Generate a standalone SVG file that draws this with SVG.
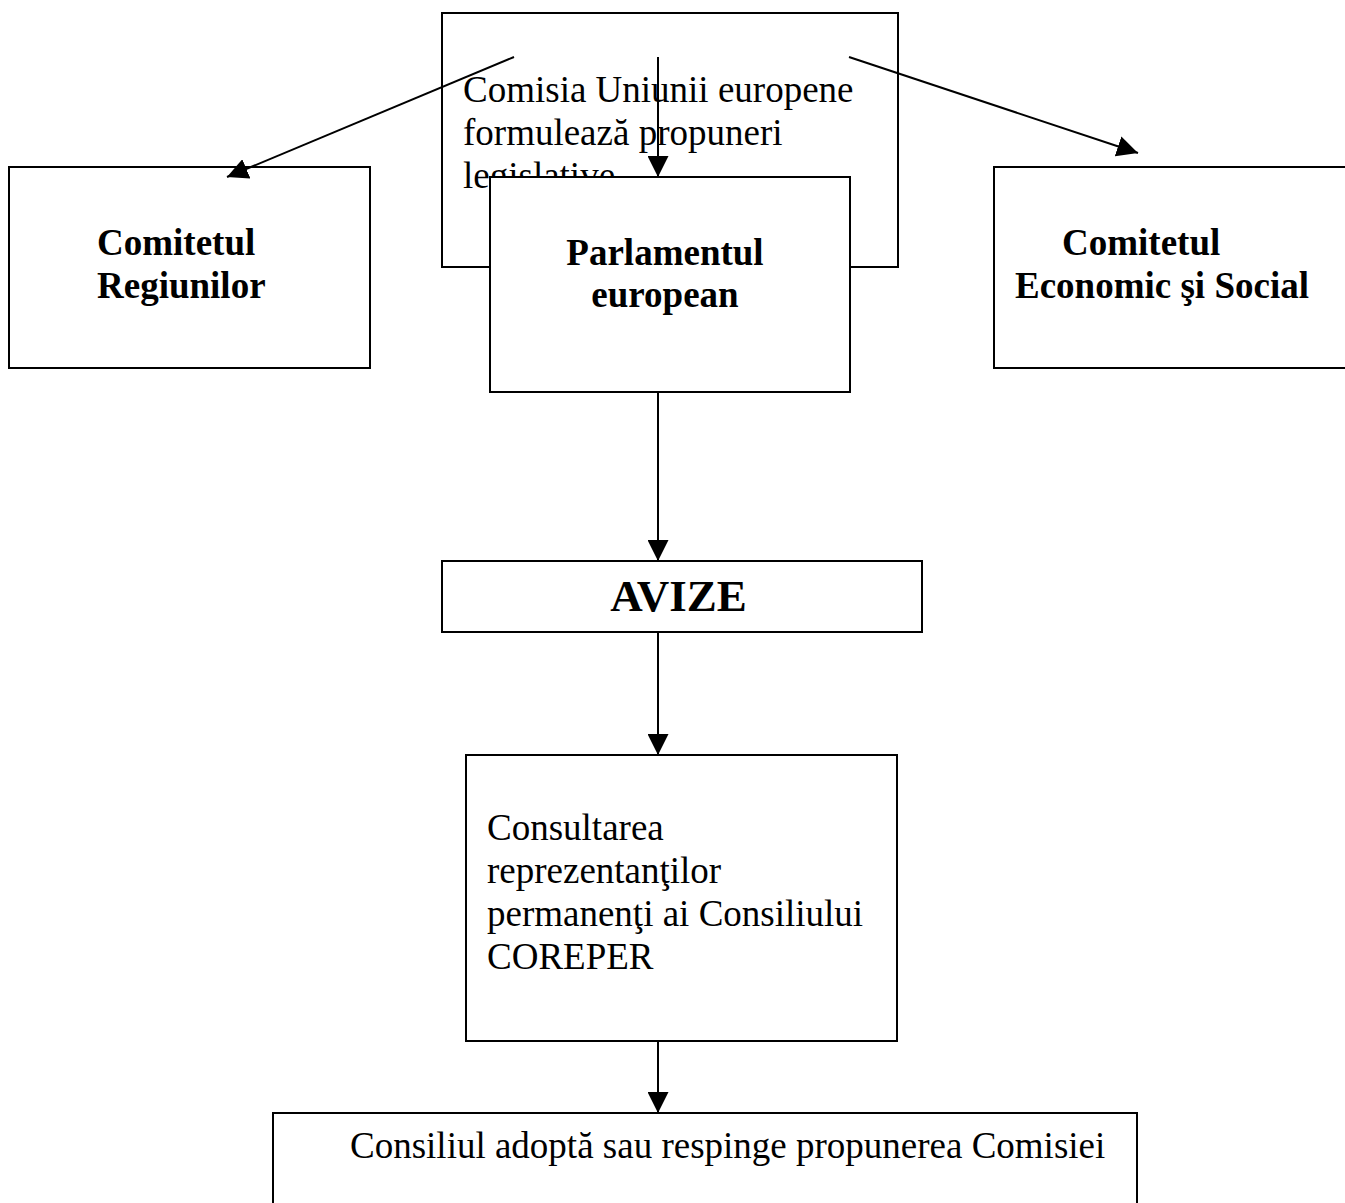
<svg xmlns="http://www.w3.org/2000/svg" width="1345" height="1203" viewBox="0 0 1345 1203">
<style>
.box{fill:#fff;stroke:#000;stroke-width:2}
.t{font-family:"Liberation Serif","Times New Roman",serif;font-size:37px;fill:#000}
.b{font-weight:bold}
.c{fill:none;stroke:#000;stroke-width:2}
</style>
<defs>
<marker id="ah" markerUnits="userSpaceOnUse" markerWidth="21" markerHeight="21" viewBox="0 0 21 21" refX="21" refY="10.5" orient="auto">
<path d="M0,0 L21,10.5 L0,21 z" fill="#000"/>
</marker>
</defs>
<rect width="1345" height="1203" fill="#fff"/>
<g id="comisia">
<rect class="box" x="442" y="13" width="456" height="254"/>
<text class="t" x="463" y="102">Comisia Uniunii europene</text>
<text class="t" x="463" y="145">formulează propuneri</text>
<text class="t" x="463" y="188">legislative</text>
</g>
<g id="parlamentul">
<rect class="box" x="490" y="177" width="360" height="215"/>
<text class="t b" x="665" y="265" text-anchor="middle">Parlamentul</text>
<text class="t b" x="665" y="307" text-anchor="middle">european</text>
</g>
<g id="comitetul-regiunilor">
<rect class="box" x="9" y="167" width="361" height="201"/>
<text class="t b" x="97" y="255">Comitetul</text>
<text class="t b" x="97" y="298">Regiunilor</text>
</g>
<g id="comitetul-economic">
<rect class="box" x="994" y="167" width="360" height="201"/>
<text class="t b" x="1062" y="255">Comitetul</text>
<text class="t b" x="1015" y="298">Economic şi Social</text>
</g>
<g id="avize">
<rect class="box" x="442" y="561" width="480" height="71"/>
<text class="t b" x="678.5" y="611" text-anchor="middle" style="font-size:45px">AVIZE</text>
</g>
<g id="coreper">
<rect class="box" x="466" y="755" width="431" height="286"/>
<text class="t" x="487" y="840">Consultarea</text>
<text class="t" x="487" y="883">reprezentanţilor</text>
<text class="t" x="487" y="926">permanenţi ai Consiliului</text>
<text class="t" x="487" y="969">COREPER</text>
</g>
<g id="consiliul">
<rect class="box" x="273" y="1113" width="864" height="110"/>
<text class="t" x="350" y="1158">Consiliul adoptă sau respinge propunerea Comisiei</text>
</g>
<g id="connectors">
<line class="c" x1="514" y1="57" x2="227" y2="177" marker-end="url(#ah)"/>
<line class="c" x1="658" y1="57" x2="658" y2="177" marker-end="url(#ah)"/>
<line class="c" x1="849" y1="57" x2="1138" y2="153" marker-end="url(#ah)"/>
<line class="c" x1="658" y1="392" x2="658" y2="561" marker-end="url(#ah)"/>
<line class="c" x1="658" y1="632" x2="658" y2="755" marker-end="url(#ah)"/>
<line class="c" x1="658" y1="1041" x2="658" y2="1113" marker-end="url(#ah)"/>
</g>
</svg>
